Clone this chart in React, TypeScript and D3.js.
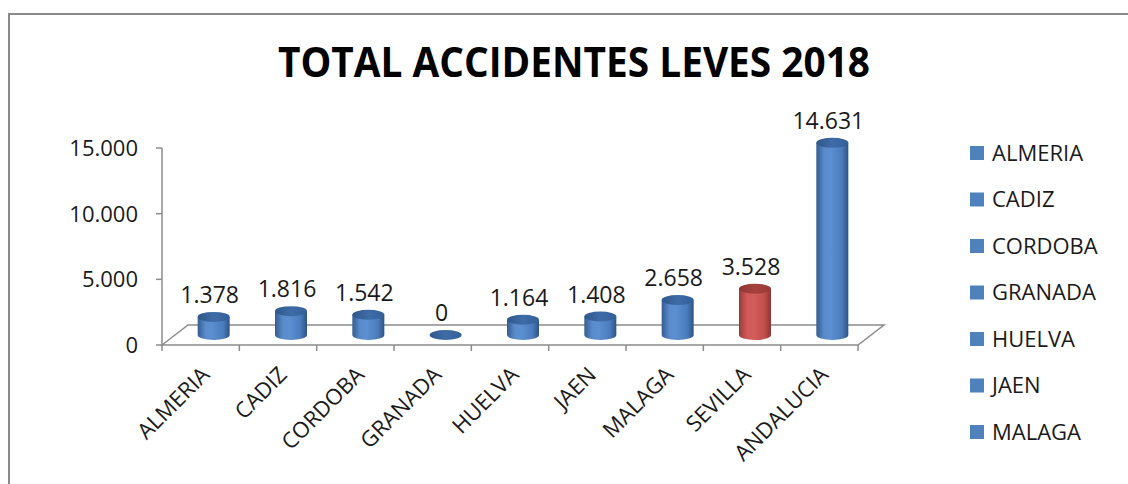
import React, { useRef, useEffect } from 'react';
import * as d3 from 'd3';

const categories: string[] = ['ALMERIA', 'CADIZ', 'CORDOBA', 'GRANADA', 'HUELVA', 'JAEN', 'MALAGA', 'SEVILLA', 'ANDALUCIA'];
const values: number[] = [1378, 1816, 1542, 0, 1164, 1408, 2658, 3528, 14631];
const highlighted: string[] = ['SEVILLA'];
const yTicks: number[] = [0, 5000, 10000, 15000];
const legendItems: string[] = categories.slice(0, 7);

const fmt = (v: number) => d3.format(',')(v).replace(/,/g, '.');

const App: React.FC = () => {
  const svgRef = useRef<SVGSVGElement>(null);

  useEffect(() => {
    if (!svgRef.current) return;
    const svg = d3.select(svgRef.current);
    svg.selectAll('*').remove();

    const font = "'Open Sans', 'Noto Sans', sans-serif";
    const axisColor = '#8c8c8c';
    const depth = { dx: 26, dy: -20 };

    const x = d3.scaleBand().domain(categories).range([162, 858]).padding(0);
    const y = d3.scaleLinear().domain([0, 15000]).range([345, 148]);

    // gradients
    const defs = svg.append('defs');
    const grad = (id: string, stops: [number, string][]) => {
      const g = defs.append('linearGradient').attr('id', id).attr('x1', '0%').attr('x2', '100%').attr('y1', '0%').attr('y2', '0%');
      stops.forEach(([o, c]) => g.append('stop').attr('offset', `${o}%`).attr('stop-color', c));
    };
    grad('bodyBlue', [[0, '#345c92'], [25, '#5a8ccc'], [45, '#5b8fd0'], [80, '#4a7bbd'], [100, '#2e5384']]);
    grad('bodyRed', [[0, '#983b39'], [25, '#d05a57'], [45, '#d35d5a'], [80, '#c04f4c'], [100, '#8c3432']]);
    grad('topBlue', [[0, '#2f5789'], [50, '#3f6ca8'], [100, '#33609a']]);
    grad('topRed', [[0, '#8d3532'], [50, '#a8413e'], [100, '#983936']]);

    // chart border
    svg.append('path')
      .attr('d', 'M9,490 L9,14 L1140,14')
      .attr('fill', 'none')
      .attr('stroke', '#8a8a8a')
      .attr('stroke-width', 2);

    // title
    svg.append('text')
      .attr('x', 574).attr('y', 77)
      .attr('text-anchor', 'middle')
      .attr('font-family', font)
      .attr('font-weight', 'bold')
      .attr('font-size', 41)
      .attr('textLength', 592)
      .attr('lengthAdjust', 'spacingAndGlyphs')
      .attr('fill', '#000')
      .text('TOTAL ACCIDENTES LEVES 2018');

    // floor
    const [fx0, fx1] = x.range();
    const fy = y(0);
    svg.append('path')
      .attr('d', `M${fx0},${fy} L${fx0 + depth.dx},${fy + depth.dy} L${fx1 + depth.dx},${fy + depth.dy} L${fx1},${fy} Z`)
      .attr('fill', 'none')
      .attr('stroke', axisColor)
      .attr('stroke-width', 1.5);

    // y axis
    svg.append('line')
      .attr('x1', fx0).attr('x2', fx0)
      .attr('y1', y(15000)).attr('y2', y(0))
      .attr('stroke', axisColor).attr('stroke-width', 1.5);
    const yt = svg.append('g');
    yt.selectAll('line').data(yTicks).enter().append('line')
      .attr('x1', fx0 - 6).attr('x2', fx0)
      .attr('y1', d => y(d)).attr('y2', d => y(d))
      .attr('stroke', axisColor).attr('stroke-width', 1.5);
    yt.selectAll('text').data(yTicks).enter().append('text')
      .attr('x', 138).attr('y', d => y(d))
      .attr('dy', '0.36em')
      .attr('text-anchor', 'end')
      .attr('font-family', font).attr('font-size', 22)
      .attr('fill', '#1a1a1a')
      .text(d => fmt(d));

    // x ticks
    const xTickPos = categories.map(c => x(c) as number).concat([fx1]);
    svg.append('g').selectAll('line').data(xTickPos).enter().append('line')
      .attr('x1', d => d).attr('x2', d => d)
      .attr('y1', fy).attr('y2', fy + 6)
      .attr('stroke', axisColor).attr('stroke-width', 1.5);

    // x labels
    svg.append('g').selectAll('text').data(categories).enter().append('text')
      .attr('transform', d => `translate(${(x(d) as number) + x.bandwidth() / 2 - 1},${fy + 20}) rotate(-45)`)
      .attr('dy', '0.72em')
      .attr('text-anchor', 'end')
      .attr('font-family', font).attr('font-size', 22)
      .attr('fill', '#1a1a1a')
      .text(d => d);

    // cylinders
    const rx = 16;
    const ry = 5;
    const bars = svg.append('g');
    categories.forEach((c, i) => {
      const v = values[i];
      const red = highlighted.includes(c);
      const cx = (x(c) as number) + x.bandwidth() / 2 + depth.dx / 2;
      const y0 = y(0) + depth.dy / 2;
      const y1 = y(v) + depth.dy / 2;
      if (v > 0) {
        bars.append('path')
          .attr('d', `M${cx - rx},${y1} L${cx - rx},${y0} A${rx},${ry} 0 0 0 ${cx + rx},${y0} L${cx + rx},${y1} Z`)
          .attr('fill', `url(#${red ? 'bodyRed' : 'bodyBlue'})`);
      }
      bars.append('ellipse')
        .attr('cx', cx).attr('cy', y1)
        .attr('rx', rx).attr('ry', ry)
        .attr('fill', `url(#${red ? 'topRed' : 'topBlue'})`);
      bars.append('text')
        .attr('x', cx - 4).attr('y', y1 - 14)
        .attr('text-anchor', 'middle')
        .attr('font-family', font).attr('font-size', 23)
        .attr('fill', '#1a1a1a')
        .text(fmt(v));
    });

    // legend
    const lg = svg.append('g');
    legendItems.forEach((c, i) => {
      const ly = 153 + i * 46.5;
      lg.append('rect')
        .attr('x', 970).attr('y', ly - 7)
        .attr('width', 14).attr('height', 14)
        .attr('fill', '#4f81bd');
      lg.append('text')
        .attr('x', 992).attr('y', ly)
        .attr('dy', '0.36em')
        .attr('font-family', font).attr('font-size', 22)
        .attr('fill', '#1a1a1a')
        .text(c);
    });
  }, []);

  return (
    <div style={{ position: 'absolute', left: 0, top: 0 }}>
      <svg ref={svgRef} width="1128" height="484" style={{ display: 'block', background: '#fff' }}></svg>
    </div>
  );
};

export default App;
